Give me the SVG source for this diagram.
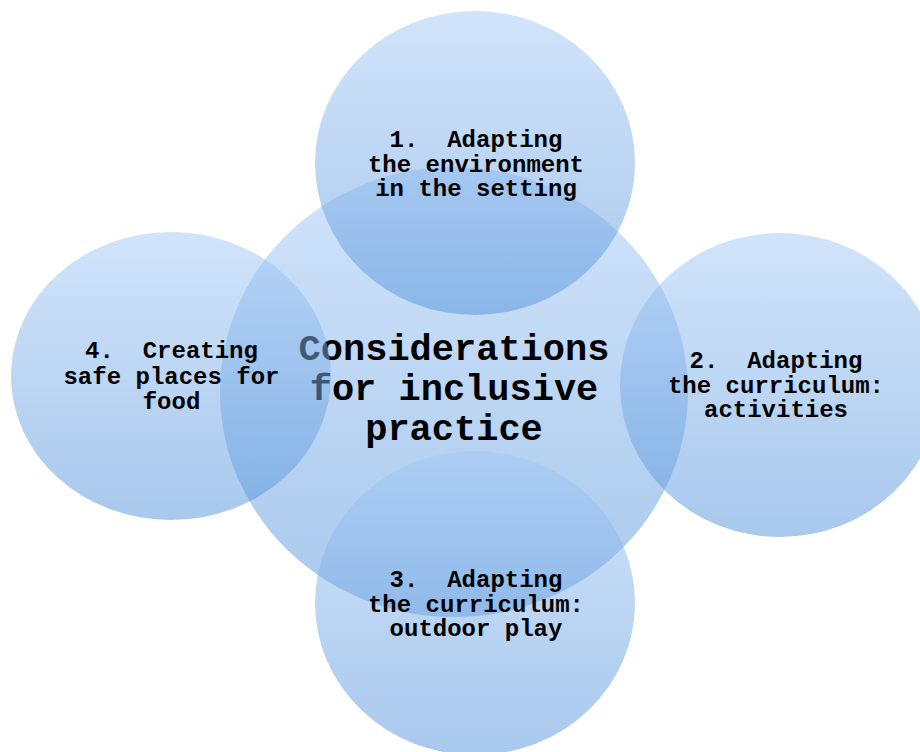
<svg xmlns="http://www.w3.org/2000/svg" width="920" height="752" viewBox="0 0 920 752">
  <style>
    .c { fill: url(#g); fill-opacity: 0.5; stroke: none; }
    .t { font-family: "Liberation Mono", "Courier New", monospace; font-weight: bold; font-size: 24px; fill: #000; text-anchor: middle; white-space: pre; }
    .m { font-family: "Liberation Mono", "Courier New", monospace; font-weight: bold; font-size: 37px; fill: #000; text-anchor: middle; white-space: pre; }
  </style>
  <defs>
    <linearGradient id="g" x1="0" y1="0" x2="0" y2="1">
      <stop offset="0" stop-color="#a3c9f6"/>
      <stop offset="1" stop-color="#5292da"/>
    </linearGradient>
  </defs>
  <rect width="920" height="752" fill="#fff"/>
  <g id="center">
    <ellipse class="c" cx="454" cy="392" rx="234" ry="225"/>
    <text class="m" xml:space="preserve"><tspan x="454" y="360">Considerations</tspan><tspan x="454" y="400">for inclusive</tspan><tspan x="454" y="440">practice</tspan></text>
  </g>
  <g id="node1">
    <ellipse class="c" cx="475" cy="163" rx="160" ry="152"/>
    <text class="t" xml:space="preserve"><tspan x="476" y="147">1.  Adapting</tspan><tspan x="476" y="171.5">the environment</tspan><tspan x="476" y="196">in the setting</tspan></text>
  </g>
  <g id="node2">
    <ellipse class="c" cx="780" cy="385" rx="160" ry="152"/>
    <text class="t" xml:space="preserve"><tspan x="776" y="368">2.  Adapting</tspan><tspan x="776" y="392.5">the curriculum:</tspan><tspan x="776" y="417">activities</tspan></text>
  </g>
  <g id="node3">
    <ellipse class="c" cx="475" cy="603" rx="160" ry="152"/>
    <text class="t" xml:space="preserve"><tspan x="476" y="587">3.  Adapting</tspan><tspan x="476" y="611.5">the curriculum:</tspan><tspan x="476" y="636">outdoor play</tspan></text>
  </g>
  <g id="node4">
    <ellipse class="c" cx="171" cy="376" rx="160" ry="144"/>
    <text class="t" xml:space="preserve"><tspan x="171.5" y="358">4.  Creating</tspan><tspan x="171.5" y="383.5">safe places for</tspan><tspan x="171.5" y="409">food</tspan></text>
  </g>
  <g id="connectors"></g>
</svg>
